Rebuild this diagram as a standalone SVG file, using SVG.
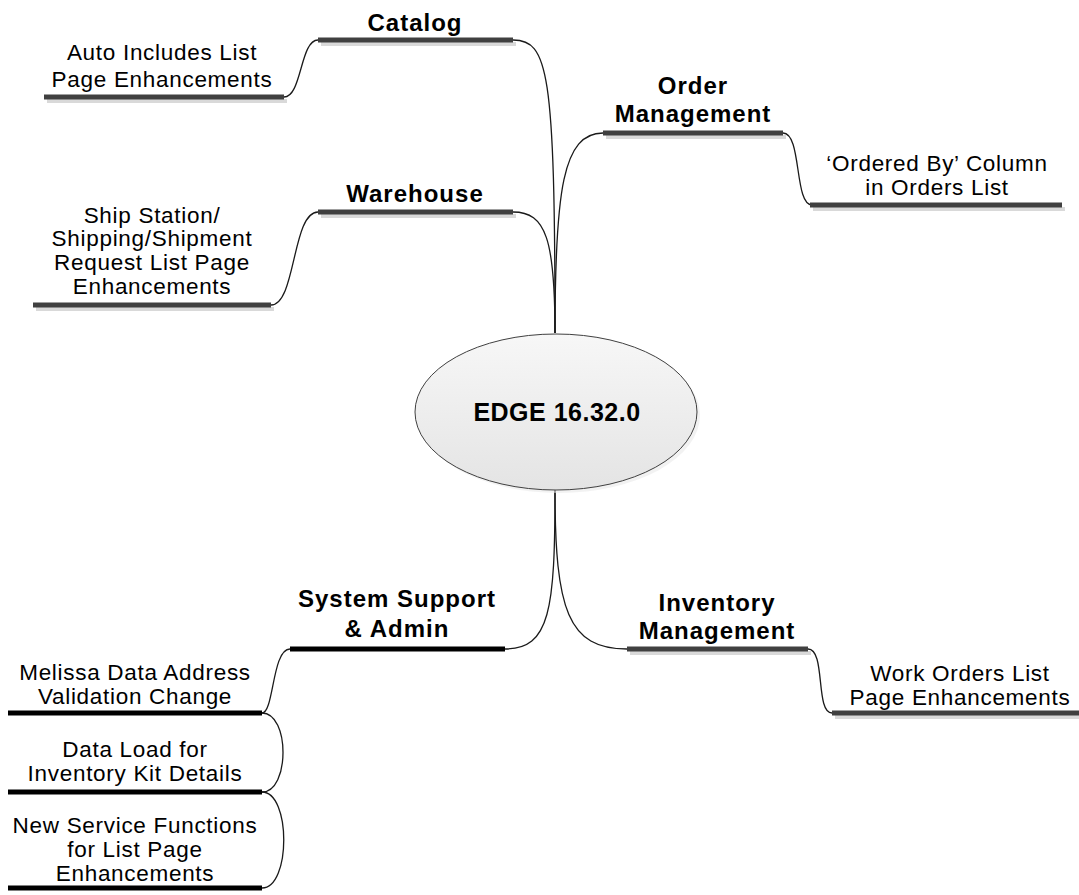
<svg xmlns="http://www.w3.org/2000/svg" width="1079" height="895" viewBox="0 0 1079 895">
<defs>
<linearGradient id="eg" x1="0" y1="0" x2="0" y2="1">
<stop offset="0" stop-color="#f7f7f7"/>
<stop offset="1" stop-color="#e4e4e4"/>
</linearGradient>
</defs>
<style>
.t{font-family:"Liberation Sans",Arial,sans-serif;font-size:22.5px;fill:#000;text-anchor:middle;letter-spacing:0.7px}
.b{font-family:"Liberation Sans",Arial,sans-serif;font-size:24px;font-weight:bold;fill:#000;text-anchor:middle;letter-spacing:1px}
.bar{stroke:#404040;stroke-width:5;fill:none}
.barb{stroke:#000;stroke-width:5;fill:none}
.sh{stroke:#d9d9d9;stroke-width:4;fill:none}
.c{stroke:#1a1a1a;stroke-width:1.3;fill:none}
</style>
<rect width="1079" height="895" fill="#fff"/>
<g id="connectors">
<path class="c" d="M513,40 C548,40 555,70 555,333"/>
<path class="c" d="M513,212 C546,212 555,240 555,333"/>
<path class="c" d="M555,333 C555,190 563,133 603,133"/>
<path class="c" d="M284,97 C302,97 300,40 318,40"/>
<path class="c" d="M271,305 C296,305 292,212 318,212"/>
<path class="c" d="M783,133 C802,133 794,205 812,205"/>
<path class="c" d="M555,490 C555,610 550,649 505,649"/>
<path class="c" d="M555,490 C555,610 568,649 627,649"/>
<path class="c" d="M808,649 C826,649 815,713 832,713"/>
<path class="c" d="M290,649 C272,649 274,713 262,713"/>
<path class="c" d="M262,713 C290,713 290,792 262,792"/>
<path class="c" d="M262,792 C291,792 291,888 262,888"/>
</g>
<g id="catalog">
<line class="sh" x1="321" y1="44" x2="516" y2="44"/>
<line class="bar" x1="318" y1="40" x2="513" y2="40"/>
<text class="b" x="415" y="31">Catalog</text>
</g>
<g id="auto-includes">
<line class="sh" x1="47" y1="101" x2="287" y2="101"/>
<line class="bar" x1="44" y1="97" x2="284" y2="97"/>
<text class="t" x="162" y="60">Auto Includes List</text>
<text class="t" x="162" y="87">Page Enhancements</text>
</g>
<g id="warehouse">
<line class="sh" x1="321" y1="216" x2="516" y2="216"/>
<line class="bar" x1="318" y1="212" x2="513" y2="212"/>
<text class="b" x="415" y="202">Warehouse</text>
</g>
<g id="ship-station">
<line class="sh" x1="36" y1="309" x2="274" y2="309"/>
<line class="bar" x1="33" y1="305" x2="271" y2="305"/>
<text class="t" x="152" y="223">Ship Station/</text>
<text class="t" x="152" y="246">Shipping/Shipment</text>
<text class="t" x="152" y="270">Request List Page</text>
<text class="t" x="152" y="294">Enhancements</text>
</g>
<g id="order-management">
<line class="sh" x1="606" y1="137" x2="786" y2="137"/>
<line class="bar" x1="603" y1="133" x2="783" y2="133"/>
<text class="b" x="693" y="94">Order</text>
<text class="b" x="693" y="122">Management</text>
</g>
<g id="ordered-by">
<line class="sh" x1="813" y1="209" x2="1065" y2="209"/>
<line class="bar" x1="810" y1="205" x2="1062" y2="205"/>
<text class="t" x="937" y="171">‘Ordered By’ Column</text>
<text class="t" x="937" y="195">in Orders List</text>
</g>
<g id="center">
<ellipse cx="559" cy="415" rx="141" ry="78" fill="#e9e9e9" opacity="0.6"/>
<ellipse cx="556" cy="412" rx="141" ry="78" fill="url(#eg)" stroke="#404040" stroke-width="1"/>
<text class="b" x="557" y="421" style="font-size:25px;letter-spacing:0.5px">EDGE 16.32.0</text>
</g>
<g id="system-support">
<line class="barb" x1="290" y1="649" x2="505" y2="649"/>
<text class="b" x="397" y="607">System Support</text>
<text class="b" x="397" y="637">&amp; Admin</text>
</g>
<g id="inventory-management">
<line class="sh" x1="630" y1="653" x2="811" y2="653"/>
<line class="bar" x1="627" y1="649" x2="808" y2="649"/>
<text class="b" x="717" y="611">Inventory</text>
<text class="b" x="717" y="639">Management</text>
</g>
<g id="work-orders">
<line class="sh" x1="835" y1="717" x2="1079" y2="717"/>
<line class="bar" x1="832" y1="713" x2="1079" y2="713"/>
<text class="t" x="960" y="681">Work Orders List</text>
<text class="t" x="960" y="705">Page Enhancements</text>
</g>
<g id="melissa">
<line class="barb" x1="8" y1="713" x2="262" y2="713"/>
<text class="t" x="135" y="680">Melissa Data Address</text>
<text class="t" x="135" y="704">Validation Change</text>
</g>
<g id="data-load">
<line class="barb" x1="8" y1="792" x2="262" y2="792"/>
<text class="t" x="135" y="757">Data Load for</text>
<text class="t" x="135" y="781">Inventory Kit Details</text>
</g>
<g id="new-service">
<line class="barb" x1="8" y1="888" x2="262" y2="888"/>
<text class="t" x="135" y="833">New Service Functions</text>
<text class="t" x="135" y="857">for List Page</text>
<text class="t" x="135" y="881">Enhancements</text>
</g>
</svg>
